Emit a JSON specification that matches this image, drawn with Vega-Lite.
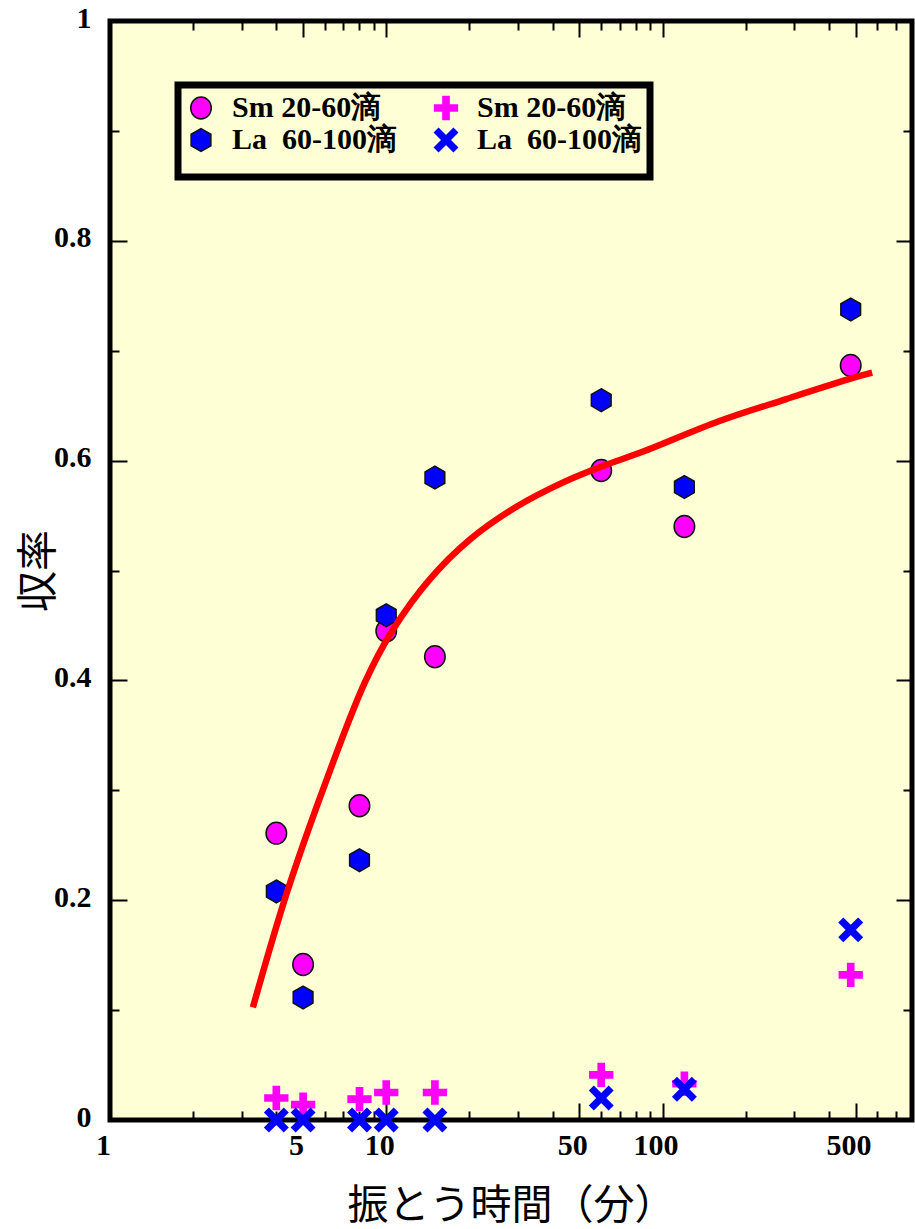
{
  "$schema": "https://vega.github.io/schema/vega-lite/v6.json",
  "width": 802,
  "height": 1099,
  "autosize": {"type": "none"},
  "padding": {"left": 110, "top": 21, "right": 3, "bottom": 109},
  "background": "white",
  "config": {
    "view": {"stroke": "black", "strokeWidth": 5, "fill": "#FFFFD6"},
    "axis": {
      "grid": false, "domain": false, "tickColor": "black", "tickWidth": 2,
      "labelFont": "Liberation Serif", "labelFontWeight": "bold", "labelFontSize": 30,
      "labelColor": "black", "labelFlush": false, "labelOverlap": false, "labelBound": false,
      "titleColor": "black", "titleFont": "Noto Sans CJK JP", "titleFontWeight": "normal", "titleFontSize": 41
    },
    "legend": {
      "orient": "none", "legendX": 68, "legendY": 64, "columns": 2,
      "columnPadding": 34, "rowPadding": 2, "padding": 8,
      "strokeColor": "black", "strokeWidth": 7, "fillColor": "#FFFFD6",
      "labelFont": "Liberation Serif", "labelFontWeight": "bold", "labelFontSize": 30,
      "labelColor": "black", "labelOffset": 16, "labelLimit": 400, "symbolSize": 520, "symbolStrokeWidth": 1.5,
      "symbolOpacity": 1,
      "titleOrient": "bottom", "titleFontSize": 10, "titlePadding": 4
    }
  },
  "datasets": {
    "pts": [
      {"series": "Sm circle", "t": 4, "yield": 0.261},
      {"series": "Sm circle", "t": 5, "yield": 0.1415},
      {"series": "Sm circle", "t": 8, "yield": 0.286},
      {"series": "Sm circle", "t": 10, "yield": 0.445},
      {"series": "Sm circle", "t": 15, "yield": 0.4215},
      {"series": "Sm circle", "t": 60, "yield": 0.591},
      {"series": "Sm circle", "t": 120, "yield": 0.54},
      {"series": "Sm circle", "t": 480, "yield": 0.6865},
      {"series": "La hexagon", "t": 4, "yield": 0.208},
      {"series": "La hexagon", "t": 5, "yield": 0.1115},
      {"series": "La hexagon", "t": 8, "yield": 0.2364},
      {"series": "La hexagon", "t": 10, "yield": 0.4593},
      {"series": "La hexagon", "t": 15, "yield": 0.5846},
      {"series": "La hexagon", "t": 60, "yield": 0.655},
      {"series": "La hexagon", "t": 120, "yield": 0.576},
      {"series": "La hexagon", "t": 480, "yield": 0.7375},
      {"series": "Sm plus", "t": 4, "yield": 0.02},
      {"series": "Sm plus", "t": 5, "yield": 0.014},
      {"series": "Sm plus", "t": 8, "yield": 0.019},
      {"series": "Sm plus", "t": 10, "yield": 0.025},
      {"series": "Sm plus", "t": 15, "yield": 0.025},
      {"series": "Sm plus", "t": 60, "yield": 0.041},
      {"series": "Sm plus", "t": 120, "yield": 0.033},
      {"series": "Sm plus", "t": 480, "yield": 0.132},
      {"series": "La cross", "t": 4, "yield": 0},
      {"series": "La cross", "t": 5, "yield": 0},
      {"series": "La cross", "t": 8, "yield": 0},
      {"series": "La cross", "t": 10, "yield": 0},
      {"series": "La cross", "t": 15, "yield": 0},
      {"series": "La cross", "t": 60, "yield": 0.02},
      {"series": "La cross", "t": 120, "yield": 0.028},
      {"series": "La cross", "t": 480, "yield": 0.173}
    ],
    "curve": [
      {"t": 3.29, "yield": 0.1024},
      {"t": 4.37, "yield": 0.207},
      {"t": 6.09, "yield": 0.31},
      {"t": 8.36, "yield": 0.398},
      {"t": 10.56, "yield": 0.446},
      {"t": 14.37, "yield": 0.492},
      {"t": 20.04, "yield": 0.528},
      {"t": 29.6, "yield": 0.558},
      {"t": 43.5, "yield": 0.58},
      {"t": 60.7, "yield": 0.595},
      {"t": 84.7, "yield": 0.608},
      {"t": 160.8, "yield": 0.636},
      {"t": 280.7, "yield": 0.656},
      {"t": 486, "yield": 0.675},
      {"t": 574, "yield": 0.68}
    ]
  },
  "resolve": {"axis": {"x": "independent", "y": "independent"}},
  "layer": [
    {
      "data": {"name": "pts"},
      "transform": [{"filter": "datum.series == 'Sm circle'"}],
      "mark": {"type": "point", "filled": true, "size": 520, "strokeWidth": 1.5, "opacity": 1},
      "encoding": {
        "x": {"field": "t", "type": "quantitative", "scale": {"type": "log", "domain": [1, 800]},
              "axis": {"orient": "bottom", "values": [2,3,4,6,7,8,9,20,30,40,60,70,80,90,200,300,400,600,700], "labels": false, "tickSize": -9, "title": null}},
        "y": {"field": "yield", "type": "quantitative", "scale": {"domain": [0, 1], "nice": false},
              "axis": {"orient": "left", "values": [0.1,0.3,0.5,0.7,0.9], "labels": false, "tickSize": -9, "title": null}},
        "shape": {"field": "series", "type": "nominal",
                  "scale": {"domain": ["Sm circle","La hexagon","Sm plus","La cross"],
                            "range": ["M0,-0.96A0.9,0.96 0 1,1 0,0.96A0.9,0.96 0 1,1 0,-0.96Z",
                                      "M0,-1L0.866,-0.5L0.866,0.5L0,1L-0.866,0.5L-0.866,-0.5Z",
                                      "M-0.27,-1H0.27V-0.27H1V0.27H0.27V1H-0.27V0.27H-1V-0.27H-0.27Z",
                                      "M-1,-0.65L-0.65,-1L0,-0.35L0.65,-1L1,-0.65L0.35,0L1,0.65L0.65,1L0,0.35L-0.65,1L-1,0.65L-0.35,0Z"]},
                  "legend": {"title": " ", "labelExpr": "indexof(datum.label, 'Sm') == 0 ? 'Sm 20-60滴' : 'La\u00a0 60-100滴'"}},
        "fill": {"field": "series", "type": "nominal",
                 "scale": {"domain": ["Sm circle","La hexagon","Sm plus","La cross"], "range": ["#FF00FF","#0000FF","#FF00FF","#0000FF"]},
                 "legend": {"title": " ", "labelExpr": "indexof(datum.label, 'Sm') == 0 ? 'Sm 20-60滴' : 'La\u00a0 60-100滴'"}},
        "stroke": {"field": "series", "type": "nominal",
                   "scale": {"domain": ["Sm circle","La hexagon","Sm plus","La cross"], "range": ["#111111","#111111","#FF00FF","#0000FF"]},
                   "legend": {"title": " ", "labelExpr": "indexof(datum.label, 'Sm') == 0 ? 'Sm 20-60滴' : 'La\u00a0 60-100滴'"}}
      }
    },
    {
      "data": {"name": "pts"},
      "transform": [{"filter": "datum.series == 'La hexagon'"}],
      "mark": {"type": "point", "filled": true, "size": 520, "strokeWidth": 1.5, "opacity": 1},
      "encoding": {
        "x": {"field": "t", "type": "quantitative", "scale": {"type": "log", "domain": [1, 800]},
              "axis": {"orient": "top", "values": [5,10,50,100,500], "labels": false, "tickSize": -16, "title": null}},
        "y": {"field": "yield", "type": "quantitative", "scale": {"domain": [0, 1], "nice": false},
              "axis": {"orient": "right", "values": [0.2,0.4,0.6,0.8], "labels": false, "tickSize": -16, "title": null}},
        "shape": {"field": "series", "type": "nominal"},
        "fill": {"field": "series", "type": "nominal"},
        "stroke": {"field": "series", "type": "nominal"}
      }
    },
    {
      "data": {"name": "pts"},
      "transform": [{"filter": "datum.series == 'Sm plus'"}],
      "mark": {"type": "point", "filled": true, "size": 520, "strokeWidth": 1.5, "opacity": 1},
      "encoding": {
        "x": {"field": "t", "type": "quantitative", "scale": {"type": "log", "domain": [1, 800]},
              "axis": {"orient": "top", "values": [2,3,4,6,7,8,9,20,30,40,60,70,80,90,200,300,400,600,700], "labels": false, "tickSize": -9, "title": null}},
        "y": {"field": "yield", "type": "quantitative", "scale": {"domain": [0, 1], "nice": false},
              "axis": {"orient": "right", "values": [0.1,0.3,0.5,0.7,0.9], "labels": false, "tickSize": -9, "title": null}},
        "shape": {"field": "series", "type": "nominal"},
        "fill": {"field": "series", "type": "nominal"},
        "stroke": {"field": "series", "type": "nominal"}
      }
    },
    {
      "data": {"name": "pts"},
      "transform": [{"filter": "datum.series == 'La cross'"}],
      "mark": {"type": "point", "filled": true, "size": 520, "strokeWidth": 1.5, "opacity": 1},
      "encoding": {
        "x": {"field": "t", "type": "quantitative", "scale": {"type": "log", "domain": [1, 800]},
              "axis": {"orient": "bottom", "values": [5,10,50,100,500], "labels": false, "tickSize": -17, "title": null}},
        "y": {"field": "yield", "type": "quantitative", "scale": {"domain": [0, 1], "nice": false},
              "axis": {"orient": "left", "values": [0.2,0.4,0.6,0.8], "labels": false, "tickSize": -17, "title": null}},
        "shape": {"field": "series", "type": "nominal"},
        "fill": {"field": "series", "type": "nominal"},
        "stroke": {"field": "series", "type": "nominal"}
      }
    },
    {
      "data": {"name": "curve"},
      "mark": {"type": "line", "color": "#FF0000", "strokeWidth": 6.5, "interpolate": "catmull-rom"},
      "encoding": {
        "x": {"field": "t", "type": "quantitative", "scale": {"type": "log", "domain": [1, 800]},
              "axis": {"orient": "bottom", "values": [1,5,10,50,100,500], "format": "d", "ticks": false,
                       "labelPadding": 10, "labelOffset": -7, "labelBaseline": "top",
                       "title": "振とう時間（分）", "titleY": 98, "titleBaseline": "alphabetic"}},
        "y": {"field": "yield", "type": "quantitative", "scale": {"domain": [0, 1], "nice": false},
              "axis": {"orient": "left", "values": [0,0.2,0.4,0.6,0.8,1], "format": ".1~f", "ticks": false,
                       "labelPadding": 19, "labelOffset": -3,
                       "title": "収率", "titleX": -59, "titleBaseline": "alphabetic"}}
      }
    }
  ]
}
